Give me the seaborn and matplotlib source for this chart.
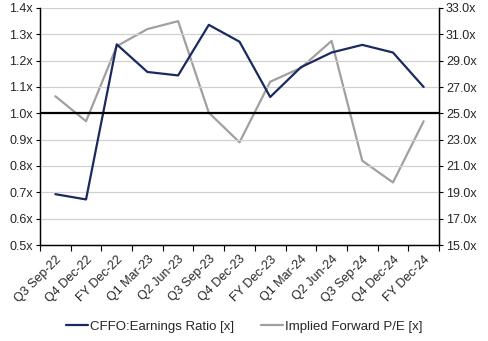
import matplotlib
matplotlib.use("Agg")
import matplotlib.pyplot as plt
from matplotlib.ticker import FixedLocator, FuncFormatter
import seaborn as sns
import pandas as pd
import numpy as np

categories = ["Q3 Sep-22", "Q4 Dec-22", "FY Dec-22", "Q1 Mar-23", "Q2 Jun-23",
              "Q3 Sep-23", "Q4 Dec-23", "FY Dec-23", "Q1 Mar-24", "Q2 Jun-24",
              "Q3 Sep-24", "Q4 Dec-24", "FY Dec-24"]
cffo_ratio = [0.693, 0.673, 1.262, 1.157, 1.144, 1.336, 1.272, 1.062, 1.175,
              1.231, 1.260, 1.231, 1.100]
fwd_pe = [26.3, 24.4, 30.1, 31.4, 32.0, 25.05, 22.8, 27.4, 28.45, 30.5,
          21.4, 19.75, 24.4]
left_ticks = [0.5, 0.6, 0.7, 0.8, 0.9, 1.0, 1.1, 1.2, 1.3, 1.4]
right_ticks = [15, 17, 19, 21, 23, 25, 27, 29, 31, 33]

sns.set_theme(style="white")
plt.rcParams["font.family"] = ["Liberation Sans", "DejaVu Sans"]
plt.rcParams["font.size"] = 9

navy = "#1B2A5E"
gray = "#A0A0A0"

df = pd.DataFrame({"pos": np.arange(len(categories)), "cat": categories,
                   "cffo": cffo_ratio, "pe": fwd_pe})

fig = plt.figure(figsize=(4.88, 3.41), dpi=100)
ax = fig.add_axes([40 / 488, 1 - 245 / 341, (439 - 40) / 488, (245 - 8) / 341])
ax2 = ax.twinx()

for y in left_ticks:
    if y != 1.0:
        ax.axhline(y, color="#D0D0D0", lw=0.9, zorder=0)

sns.lineplot(data=df, x="pos", y="cffo", ax=ax, color=navy, lw=1.6,
             label="CFFO:Earnings Ratio [x]", legend=False, zorder=3)
sns.lineplot(data=df, x="pos", y="pe", ax=ax2, color=gray, lw=1.6,
             label="Implied Forward P/E [x]", legend=False, zorder=2)
ax.axhline(1.0, color="black", lw=1.6, zorder=4)

ax.set_zorder(ax2.get_zorder() + 1)
ax.patch.set_visible(False)

ax.set_xlim(-0.5, len(categories) - 0.5)
ax.set_ylim(0.5, 1.4)
ax2.set_ylim(15, 33)
ax.set_yticks(left_ticks)
ax2.set_yticks(right_ticks)
ax.yaxis.set_major_formatter(FuncFormatter(lambda v, p: f"{v:.1f}x"))
ax2.yaxis.set_major_formatter(FuncFormatter(lambda v, p: f"{v:.1f}x"))

ax.set_xticks(np.arange(len(categories)))
ax.set_xticklabels(categories, rotation=45, ha="right", rotation_mode="anchor")
ax.xaxis.set_minor_locator(FixedLocator(np.arange(-0.5, len(categories), 1.0)))
ax.tick_params(axis="x", which="major", length=0, pad=6, labelsize=9)
ax.tick_params(axis="x", which="minor", length=4, width=0.8, color="black", direction="out", bottom=True)
ax.tick_params(axis="y", length=3, width=0.8, color="black", direction="out", left=True, labelsize=9, pad=2)
ax2.tick_params(axis="y", length=3, width=0.8, color="black", direction="out", right=True, labelsize=9, pad=2)

ax.set_xlabel("")
ax.set_ylabel("")
ax2.set_ylabel("")
for a in (ax, ax2):
    a.spines["top"].set_visible(False)
    for s in ("left", "right", "bottom"):
        a.spines[s].set_color("black")
        a.spines[s].set_linewidth(0.9)

h1, l1 = ax.get_legend_handles_labels()
h2, l2 = ax2.get_legend_handles_labels()
fig.legend(h1 + h2, l1 + l2, loc="lower center", bbox_to_anchor=(0.5, -0.01),
           ncol=2, frameon=False, fontsize=9.5, handlelength=1.7,
           handletextpad=0.15, columnspacing=2.0)

fig.savefig("out.png", dpi=100, facecolor="white")
